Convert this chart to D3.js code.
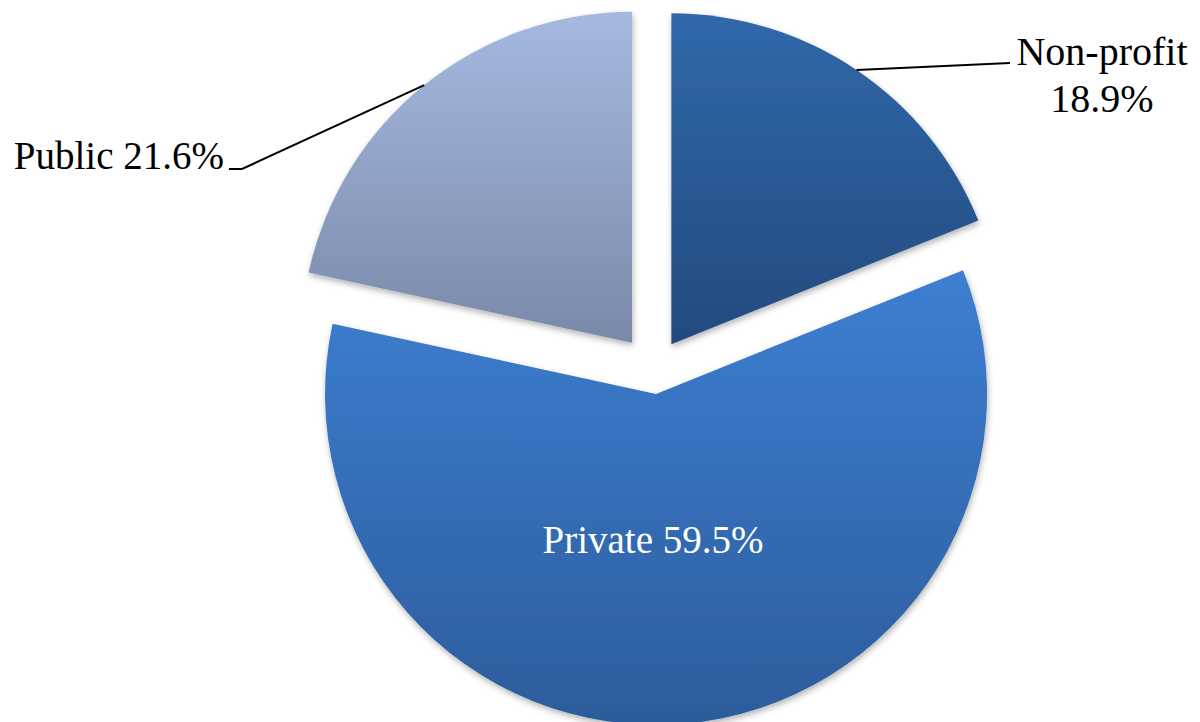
<!DOCTYPE html>
<html>
<head>
<meta charset="utf-8">
<script src="https://cdn.jsdelivr.net/npm/d3@7"></script>
<style>
  body { margin: 0; background: #fff; }
  svg text { font-family: "Liberation Serif", "Times New Roman", serif; }
</style>
</head>
<body>
<div id="chart"></div>
<script>
// chart data
var categories = ["Non-profit", "Private", "Public"];
var shares = [18.9, 59.5, 21.6];
var labelText = ["18.9%", "59.5%", "21.6%"];
// gradient colours for each slice (top, bottom)
var topColors = ["#3068aa", "#3d7fd2", "#a5b9e1"];
var bottomColors = ["#234a7e", "#2c5c9b", "#7a89a8"];
// how far each slice is pulled out
var explode = [31, 24, 35];

var width = 1200, height = 722;
var cx = 654, cy = 370, radius = 331;

var svg = d3.select("#chart").append("svg")
  .attr("width", width)
  .attr("height", height);

var defs = svg.append("defs");

// soft shadow under slices
var shadow = defs.append("filter")
  .attr("id", "shadow")
  .attr("x", "-10%").attr("y", "-10%")
  .attr("width", "120%").attr("height", "120%");
shadow.append("feDropShadow")
  .attr("dx", 1).attr("dy", 3)
  .attr("stdDeviation", 3)
  .attr("flood-color", "#000")
  .attr("flood-opacity", 0.3);

categories.forEach(function(c, i) {
  var g = defs.append("linearGradient")
    .attr("id", "grad" + i)
    .attr("x1", 0).attr("y1", 0)
    .attr("x2", 0).attr("y2", 1);
  g.append("stop").attr("offset", "0%").attr("stop-color", topColors[i]);
  g.append("stop").attr("offset", "100%").attr("stop-color", bottomColors[i]);
});

var pie = d3.pie().sort(null).value(function(d) { return d; });
var arcs = pie(shares);

var arc = d3.arc().innerRadius(0).outerRadius(radius);

function mid(d) { return (d.startAngle + d.endAngle) / 2; }
function offset(d, i) {
  var a = mid(d);
  return [explode[i] * Math.sin(a), -explode[i] * Math.cos(a)];
}

var chart = svg.append("g")
  .attr("transform", "translate(" + cx + "," + cy + ")");

chart.selectAll("path.slice")
  .data(arcs)
  .enter().append("path")
  .attr("class", "slice")
  .attr("transform", function(d, i) {
    var o = offset(d, i);
    return "translate(" + o[0] + "," + o[1] + ")";
  })
  .attr("d", arc)
  .attr("fill", function(d, i) { return "url(#grad" + i + ")"; })
  .attr("filter", "url(#shadow)");

// point on the outer edge of an exploded slice, at its middle angle
function edgePoint(d, i) {
  var o = offset(d, i), a = mid(d);
  return [cx + o[0] + radius * Math.sin(a), cy + o[1] - radius * Math.cos(a)];
}

var fontSize = 39;

// Non-profit label with leader
var p0 = edgePoint(arcs[0], 0);
svg.append("polyline")
  .attr("points", [p0, [1010, 63]].map(function(p) { return p.join(","); }).join(" "))
  .attr("fill", "none").attr("stroke", "#000").attr("stroke-width", 2);
var t0 = svg.append("text")
  .attr("text-anchor", "middle")
  .style("font-size", "40px")
  .attr("fill", "#000");
t0.append("tspan").attr("x", 1102).attr("y", 65).text(categories[0]);
t0.append("tspan").attr("x", 1102).attr("y", 112).text(labelText[0]);

// Public label with leader
var p2 = edgePoint(arcs[2], 2);
svg.append("polyline")
  .attr("points", [p2, [242, 169], [229, 169]].map(function(p) { return p.join(","); }).join(" "))
  .attr("fill", "none").attr("stroke", "#000").attr("stroke-width", 2);
svg.append("text")
  .attr("x", 224).attr("y", 169)
  .attr("text-anchor", "end")
  .style("font-size", fontSize + "px")
  .attr("fill", "#000")
  .text(categories[2] + " " + labelText[2]);

// Private label inside slice
svg.append("text")
  .attr("x", 653).attr("y", 553)
  .attr("text-anchor", "middle")
  .style("font-size", fontSize + "px")
  .attr("fill", "#fff")
  .text(categories[1] + " " + labelText[1]);
</script>
</body>
</html>
